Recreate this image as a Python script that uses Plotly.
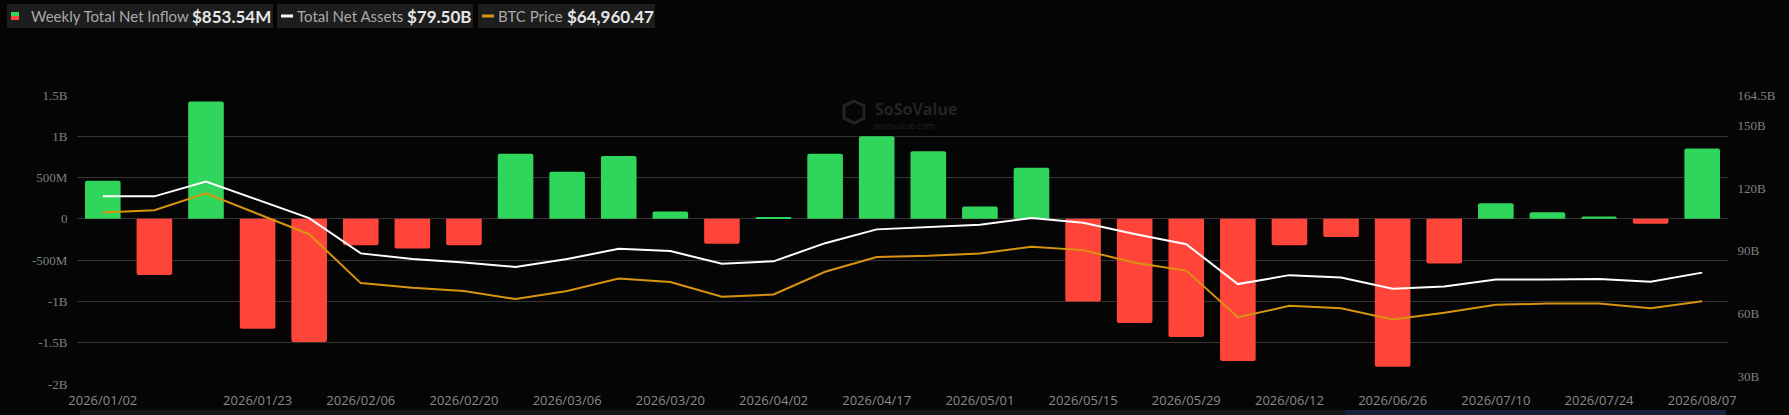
import plotly.graph_objects as go

W, H = 1789, 415
L, R, T, B = 77, 61, 95, 31

weeks = ["2026/01/02", "2026/01/09", "2026/01/16", "2026/01/23", "2026/01/30", "2026/02/06", "2026/02/13", "2026/02/20",
         "2026/02/27", "2026/03/06", "2026/03/13", "2026/03/20", "2026/03/27", "2026/04/02", "2026/04/10", "2026/04/17",
         "2026/04/24", "2026/05/01", "2026/05/08", "2026/05/15", "2026/05/22", "2026/05/29", "2026/06/05", "2026/06/12",
         "2026/06/19", "2026/06/26", "2026/07/02", "2026/07/10", "2026/07/17", "2026/07/24", "2026/07/31", "2026/08/07"]
net_inflow = [0.46, -0.68, 1.42, -1.33, -1.49, -0.32, -0.36, -0.32, 0.79, 0.57, 0.76, 0.09, -0.30, 0.02, 0.79, 1.0,
              0.82, 0.15, 0.62, -1.0, -1.26, -1.43, -1.72, -0.32, -0.22, -1.79, -0.54, 0.19, 0.08, 0.03, -0.06, 0.85354]
net_assets = [116.0, 116.0, 123.1, 114.4, 105.6, 88.7, 86.0, 84.3, 82.2, 86.0, 90.9, 89.8, 83.8, 84.9, 93.6, 100.2,
              101.3, 102.4, 105.6, 103.4, 98.0, 93.1, 74.0, 78.3, 77.2, 71.8, 72.9, 76.2, 76.2, 76.4, 75.1, 79.5]
btc_price = [89810, 90450, 95230, 89490, 83760, 70060, 68780, 67830, 65600, 67830, 71330, 70370, 66230, 66870, 73240,
             77390, 77700, 78340, 80250, 79300, 75790, 73560, 60500, 63690, 63050, 59860, 61770, 64000, 64320, 64320,
             63050, 64960]

x_ticks = ["2026/01/02", "2026/01/23", "2026/02/06", "2026/02/20", "2026/03/06", "2026/03/20", "2026/04/02", "2026/04/17",
           "2026/05/01", "2026/05/15", "2026/05/29", "2026/06/12", "2026/06/26", "2026/07/10", "2026/07/24", "2026/08/07"]
left_vals = [1.5, 1, 0.5, 0, -0.5, -1, -1.5, -2]
left_text = ["1.5B", "1B", "500M", "0", "-500M", "-1B", "-1.5B", "-2B"]
right_vals = [164.5, 150, 120, 90, 60, 30]
right_text = ["164.5B", "150B", "120B", "90B", "60B", "30B"]

GREEN, RED = "#30d55c", "#ff453a"
GREY = "#808080"
BG = "#050505"
SERIF = "Liberation Serif"
SANS = "Open Sans"
LEGEND_FONT = "Lato"
MARK = "#232323"


# page pixels to paper coordinates (paper is the plot area)
def px(x):
    return (x - L) / (W - L - R)


def py(y):
    return 1 - (y - T) / (H - T - B)


def box(x0, x1, y0, y1, color, layer="above"):
    return dict(type="rect", xref="paper", yref="paper", x0=px(x0), x1=px(x1), y0=py(y1), y1=py(y0),
                fillcolor=color, line_width=0, layer=layer)


def label(x, y, text, family, size, color):
    return dict(xref="paper", yref="paper", x=px(x), y=py(y), text=text, showarrow=False, xanchor="left", yanchor="middle",
                borderpad=0, borderwidth=0, font=dict(family=family, size=size, color=color))


fig = go.Figure()
fig.add_trace(go.Bar(x=weeks, y=net_inflow, marker=dict(color=[GREEN if v >= 0 else RED for v in net_inflow],
                                                        line_width=0, cornerradius=2), yaxis="y"))
fig.add_trace(go.Scatter(x=weeks, y=net_assets, mode="lines", line=dict(color="#ffffff", width=2), yaxis="y2"))
fig.add_trace(go.Scatter(x=weeks, y=btc_price, mode="lines", line=dict(color="#d9940f", width=2), yaxis="y3"))

shapes = []
annotations = []

# legend chips along the top
chips = [(7, 273, "Weekly Total Net Inflow", 31, "$853.54M", 192),
         (277, 473, "Total Net Assets", 297, "$79.50B", 407),
         (478, 655, "BTC Price", 498, "$64,960.47", 567)]
for x0, x1, name, lx, value, vx in chips:
    shapes.append(box(x0, x1, 4, 28, "#1d1d1d", "below"))
    annotations.append(label(lx, 16, name, LEGEND_FONT, 15, "#a9a9a9"))
    annotations.append(label(vx, 16, f"<b>{value}</b>", LEGEND_FONT, 17, "#e6e6e6"))

# legend swatches
shapes += [box(11, 19, 12, 16, GREEN), box(11, 19, 16, 20, RED), box(281, 293, 14.5, 17.5, "#ffffff"), box(482, 494, 14.5, 17.5, "#d9940f")]

# watermark
annotations.append(label(875, 109, "<b>SoSoValue</b>", SANS, 16, MARK))
annotations.append(label(873, 125, "sosovalue.com", SANS, 9, MARK))
shapes.append(dict(type="path", xref="paper", yref="paper", line=dict(color=MARK, width=3),
                   path=f"M {px(854)} {py(101)} L {px(864)} {py(106)} L {px(864)} {py(118)} L {px(854)} {py(123)} "
                        f"L {px(844)} {py(118)} L {px(844)} {py(106)} Z"))

# slider strip at the bottom edge
shapes.append(box(80, 1345, 410, H, "#161616", "below"))
shapes.append(box(1345, 1726, 410, H, "#16233b", "below"))

fig.update_layout(
    width=W, height=H, autosize=False,
    margin=dict(l=L, r=R, t=T, b=B, pad=0),
    paper_bgcolor=BG, plot_bgcolor=BG,
    showlegend=False, bargap=0.31,
    shapes=shapes, annotations=annotations,
    xaxis=dict(type="category", categoryorder="array", categoryarray=weeks, tickmode="array", tickvals=x_ticks, ticktext=x_ticks,
               showgrid=False, zeroline=False, showline=False, ticks="outside", ticklen=4, tickcolor=BG, range=[-0.5, 31.5],
               automargin=False, tickfont=dict(family=SANS, size=13, color="#8a8a8a")),
    yaxis=dict(range=[-2, 1.5], tickmode="array", tickvals=left_vals, ticktext=left_text, gridcolor="#333333", gridwidth=1,
               zeroline=False, showline=False, automargin=False, tickfont=dict(family=SERIF, size=13, color=GREY),
               ticks="outside", ticklen=6, tickcolor=BG),
    yaxis2=dict(range=[26.2, 164.5], overlaying="y", side="right", tickmode="array", tickvals=right_vals, ticktext=right_text,
                showgrid=False, zeroline=False, showline=False, automargin=False, tickfont=dict(family=SERIF, size=13, color=GREY),
                ticks="outside", ticklen=6, tickcolor=BG),
    yaxis3=dict(range=[41810, 122740], overlaying="y", side="right", visible=False),
)

fig.write_html("out.html", config=dict(displayModeBar=False),
               post_script="document.body.style.margin='0';document.body.style.background='#050505';")
